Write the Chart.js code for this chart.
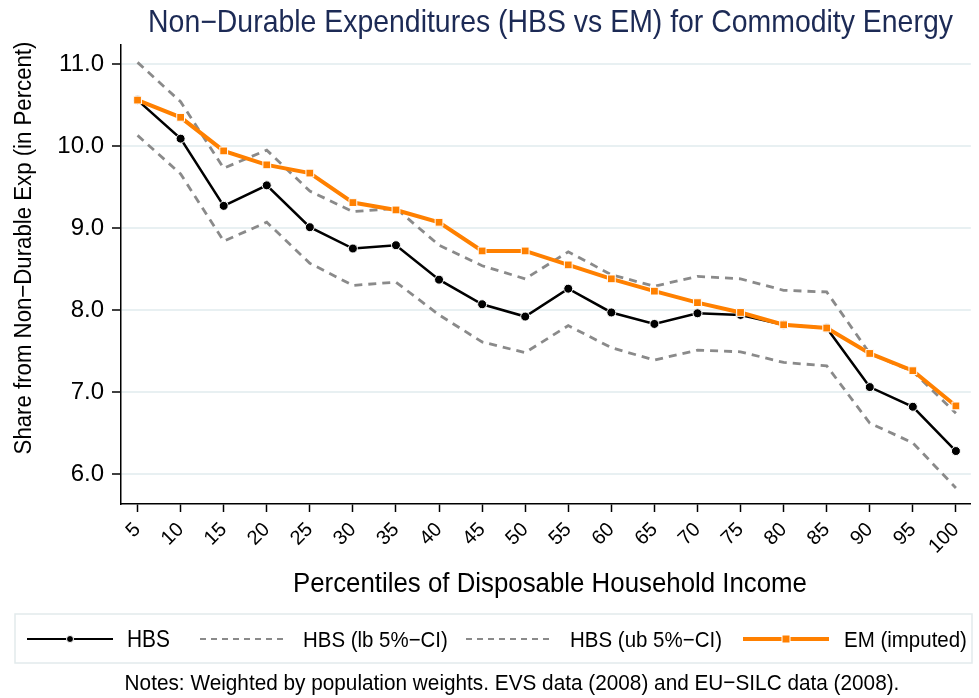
<!DOCTYPE html>
<html><head><meta charset="utf-8">
<script src="https://cdn.jsdelivr.net/npm/chart.js@4/dist/chart.umd.min.js"></script>
<style>html,body{margin:0;padding:0;background:#fff}#wrap{width:979px;height:698px;position:relative}</style>
</head><body><div id="wrap"><canvas id="c" width="979" height="698"></canvas></div>
<script>
const percentiles = [5,10,15,20,25,30,35,40,45,50,55,60,65,70,75,80,85,90,95,100];
const hbs   = [10.56,10.09,9.27,9.52,9.01,8.75,8.79,8.37,8.07,7.92,8.26,7.97,7.83,7.96,7.94,7.82,7.78,7.06,6.82,6.28];
const hbsLb = [10.13,9.66,8.84,9.07,8.57,8.30,8.34,7.94,7.61,7.48,7.81,7.54,7.39,7.51,7.49,7.36,7.32,6.62,6.38,5.83];
const hbsUb = [11.02,10.54,9.73,9.95,9.45,9.20,9.24,8.79,8.54,8.38,8.71,8.43,8.29,8.41,8.38,8.24,8.22,7.47,7.25,6.74];
const em    = [10.56,10.35,9.94,9.77,9.67,9.31,9.22,9.07,8.72,8.72,8.55,8.38,8.23,8.09,7.97,7.82,7.78,7.47,7.26,6.83];
const yTicks = [6,7,8,9,10,11];
const seriesNames = ["HBS","HBS (lb 5%\u2212CI)","HBS (ub 5%\u2212CI)","EM (imputed)"];
const titleText = "Non\u2212Durable Expenditures (HBS vs EM) for Commodity Energy";
const yTitle = "Share from Non\u2212Durable Exp (in Percent)";
const xTitle = "Percentiles of Disposable Household Income";
const notesText = "Notes: Weighted by population weights. EVS data (2008) and EU\u2212SILC data (2008).";

const FONT = '"Liberation Sans", Arial, Helvetica, sans-serif';
const ORANGE = '#ff8000';
const GRAY = '#8a8a8a';
const pts = arr => arr.map((v,i)=>({x:percentiles[i], y:v}));

function fitText(ctx, text, x, y, targetW, align, stretch) {
  const k = stretch || 1.1;
  ctx.font = '20px ' + FONT;
  const w = ctx.measureText(text).width;
  const size = 20 * targetW / w;
  ctx.save();
  ctx.translate(x, y);
  ctx.scale(1, k);
  ctx.font = size.toFixed(2) + 'px ' + FONT;
  ctx.textAlign = align || 'left';
  ctx.fillText(text, 0, 0);
  ctx.restore();
}

const decor = {
  id: 'decor',
  afterDraw(chart) {
    const ctx = chart.ctx;
    ctx.save();
    ctx.textBaseline = 'alphabetic';
    ctx.fillStyle = '#1c2a55';
    fitText(ctx, titleText, 550.5, 32, 805, 'center');
    ctx.fillStyle = '#000';
    fitText(ctx, xTitle, 550, 592, 514, 'center');
    ctx.save();
    ctx.translate(31, 248);
    ctx.rotate(-Math.PI/2);
    fitText(ctx, yTitle, 0, 0, 413, 'center');
    ctx.restore();
    // legend box
    ctx.fillStyle = '#fff';
    ctx.strokeStyle = '#e2eaec';
    ctx.lineWidth = 1.5;
    ctx.fillRect(15, 614, 957, 49);
    ctx.strokeRect(15, 614, 957, 49);
    const ly = 639;
    ctx.setLineDash([]);
    ctx.strokeStyle = '#000'; ctx.lineWidth = 2.2;
    ctx.beginPath(); ctx.moveTo(27, ly); ctx.lineTo(113, ly); ctx.stroke();
    ctx.fillStyle = '#000'; ctx.strokeStyle = '#fff'; ctx.lineWidth = 1;
    ctx.beginPath(); ctx.arc(70, ly, 3.5, 0, Math.PI*2); ctx.fill(); ctx.stroke();
    ctx.strokeStyle = GRAY; ctx.lineWidth = 2; ctx.setLineDash([6,5]);
    ctx.beginPath(); ctx.moveTo(200, ly); ctx.lineTo(286, ly); ctx.stroke();
    ctx.beginPath(); ctx.moveTo(466, ly); ctx.lineTo(552, ly); ctx.stroke();
    ctx.setLineDash([]);
    ctx.strokeStyle = ORANGE; ctx.lineWidth = 4;
    ctx.beginPath(); ctx.moveTo(743, ly); ctx.lineTo(829, ly); ctx.stroke();
    ctx.fillStyle = ORANGE; ctx.strokeStyle = '#fff'; ctx.lineWidth = 1;
    ctx.fillRect(782, ly-4, 8, 8); ctx.strokeRect(782, ly-4, 8, 8);
    ctx.fillStyle = '#000';
    fitText(ctx, seriesNames[0], 127, 647, 43, 'left');
    fitText(ctx, seriesNames[1], 303, 647, 145, 'left');
    fitText(ctx, seriesNames[2], 570, 647, 152, 'left');
    fitText(ctx, seriesNames[3], 844, 647, 123, 'left');
    fitText(ctx, notesText, 512, 690, 775, 'center');
    ctx.restore();
  }
};

new Chart(document.getElementById('c'), {
  type: 'line',
  data: {
    datasets: [
      { label: seriesNames[0], data: pts(hbs), order: 3, borderColor: '#000', borderWidth: 2.5,
        pointRadius: 4.5, pointBackgroundColor: '#000', pointBorderColor: '#fff', pointBorderWidth: 1, tension: 0 },
      { label: seriesNames[1], data: pts(hbsLb), order: 2, borderColor: GRAY, borderWidth: 2.8,
        borderDash: [8,6], pointRadius: 0, tension: 0 },
      { label: seriesNames[2], data: pts(hbsUb), order: 1, borderColor: GRAY, borderWidth: 2.8,
        borderDash: [8,6], pointRadius: 0, tension: 0 },
      { label: seriesNames[3], data: pts(em), order: 0, borderColor: ORANGE, borderWidth: 4,
        pointStyle: 'rect', pointRadius: 5.5, pointBackgroundColor: ORANGE, pointBorderColor: '#fff', pointBorderWidth: 1, tension: 0 }
    ]
  },
  options: {
    responsive: false,
    animation: false,
    devicePixelRatio: 1,
    layout: { padding: { left: 0, right: 0, top: 45, bottom: 0 } },
    plugins: { legend: { display: false }, tooltip: { enabled: false }, title: { display: false } },
    scales: {
      x: {
        type: 'linear', min: 3.08, max: 101.73,
        afterBuildTicks: s => { s.ticks = percentiles.map(v => ({ value: v })); },
        afterFit: s => { s.height = 194; },
        ticks: { autoSkip: false, maxRotation: 45, minRotation: 45, color: '#000',
                 font: { family: FONT, size: 20 }, padding: 6, callback: v => String(v) },
        grid: { drawOnChartArea: false, drawTicks: true, tickLength: 8, tickColor: '#000', tickWidth: 1.5 },
        border: { display: true, color: '#000', width: 1.5 }
      },
      y: {
        min: 5.634, max: 11.232,
        afterBuildTicks: s => { s.ticks = yTicks.map(v => ({ value: v })); },
        afterFit: s => { s.width = 121; },
        ticks: { color: '#000', font: { family: FONT, size: 24 }, padding: 8, callback: v => Number(v).toFixed(1) },
        grid: { color: '#e8f0f2', lineWidth: 2, drawTicks: true, tickLength: 9, tickColor: '#000', tickWidth: 1.5 },
        border: { display: true, color: '#000', width: 1.5 }
      }
    }
  },
  plugins: [decor]
});
</script></body></html>
